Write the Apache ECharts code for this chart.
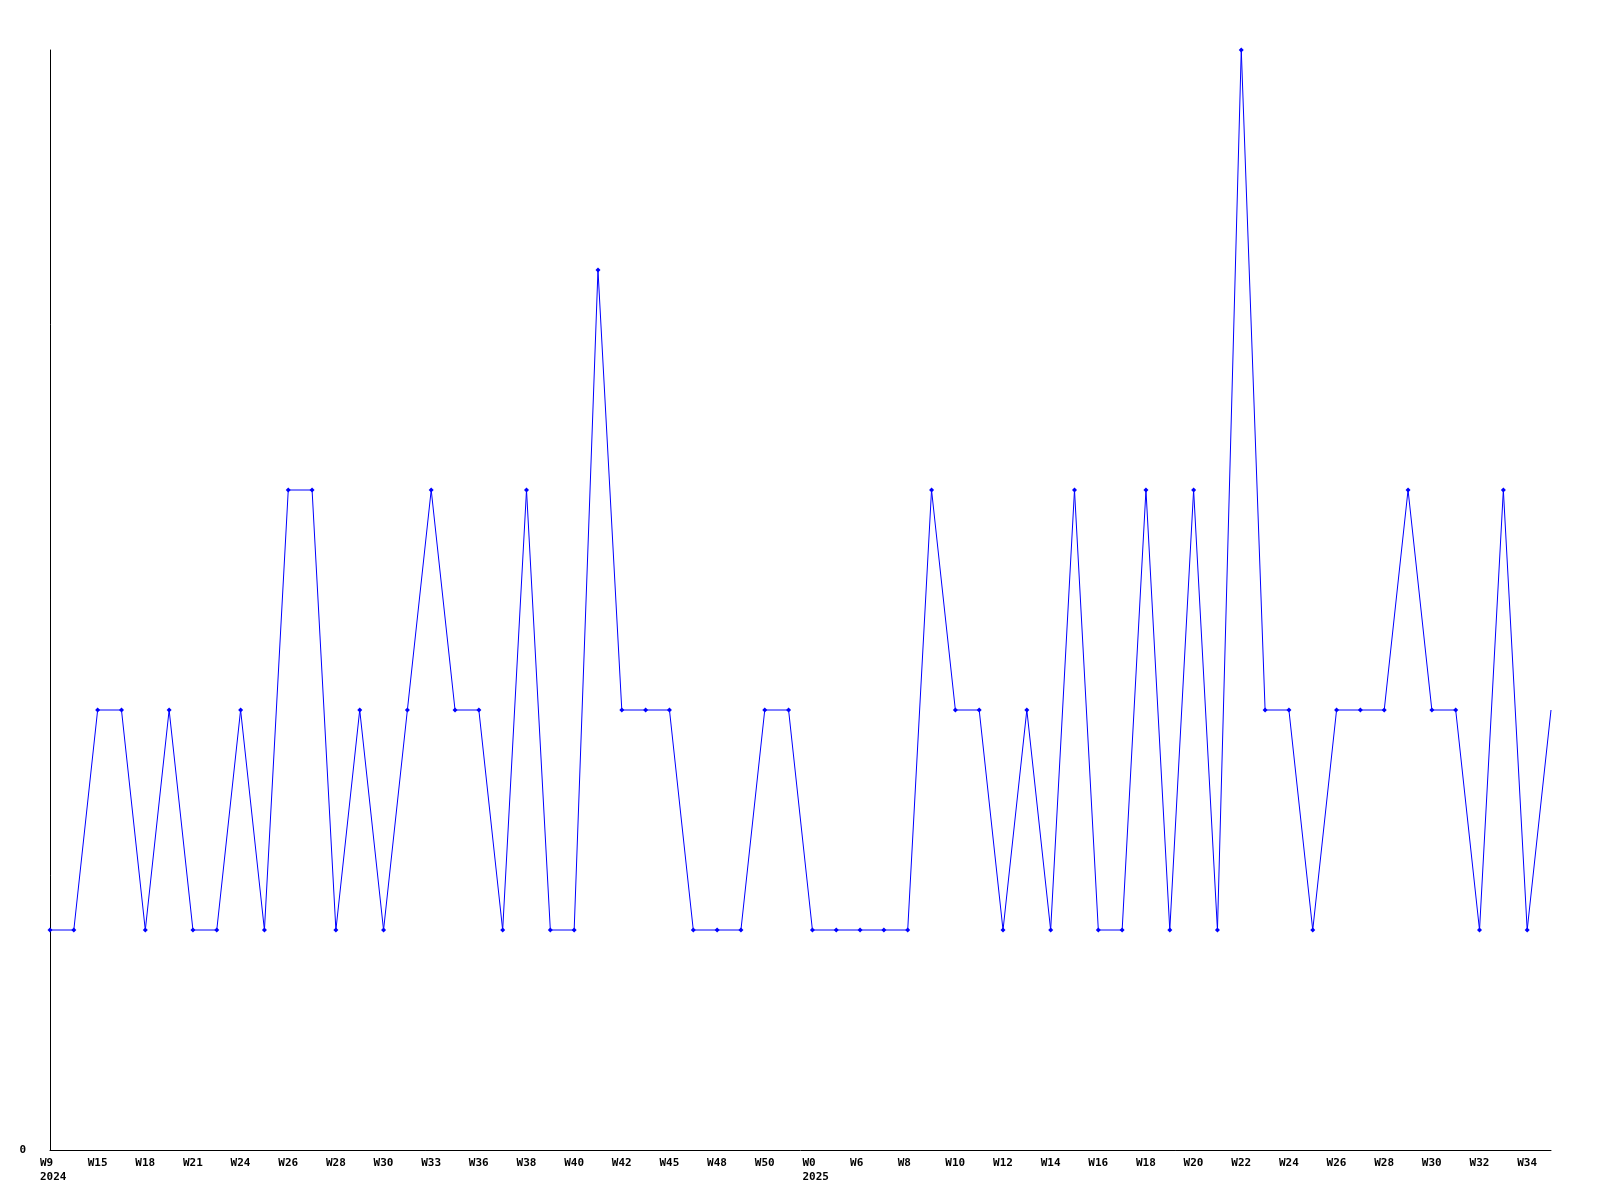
<!DOCTYPE html>
<html>
<head>
<meta charset="utf-8">
<script src="https://cdn.jsdelivr.net/npm/echarts@6/dist/echarts.min.js"></script>
<style>html,body{margin:0;padding:0;background:#fff}#c{width:1600px;height:1200px}</style>
</head>
<body>
<div id="c"></div>
<script>
// Category (week) labels, one per point; only every other one is shown on the axis
const weeks = [
  'W9\n2024','W12','W15','W16','W18','W19','W21','W22','W24','W25',
  'W26','W27','W28','W29','W30','W31','W33','W34','W36','W37',
  'W38','W39','W40','W41','W42','W43','W45','W46','W48','W49',
  'W50','W51','W0\n2025','W3','W6','W7','W8','W9','W10','W11',
  'W12','W13','W14','W15','W16','W17','W18','W19','W20','W21',
  'W22','W23','W24','W25','W26','W27','W28','W29','W30','W31',
  'W32','W33','W34','W35'
];
const values = [
  1,1,2,2,1,2,1,1,2,1,
  3,3,1,2,1,2,3,2,2,1,
  3,1,1,4,2,2,2,1,1,1,
  2,2,1,1,1,1,1,3,2,2,
  1,2,1,3,1,1,3,1,3,1,
  5,2,2,1,2,2,2,3,2,2,
  1,3,1,2
];
const yMin = 0, yMax = 5, yStep = 1;

const chart = echarts.init(document.getElementById('c'), null, {renderer: 'canvas'});
const font = '"DejaVu Sans Mono", "Liberation Mono", monospace';
const data = values.map((v, i) => i === values.length - 1 ? {value: v, symbol: 'none'} : v);
chart.setOption({
  animation: false,
  backgroundColor: '#ffffff',
  grid: {left: 50, right: 49, top: 50, bottom: 50, containLabel: false},
  xAxis: {
    type: 'category',
    data: weeks,
    boundaryGap: false,
    axisLine: {show: true, lineStyle: {color: '#000', width: 1}},
    axisTick: {show: false},
    splitLine: {show: false},
    axisLabel: {
      interval: 1,
      margin: 6,
      color: '#000',
      fontFamily: font,
      fontWeight: 'bold',
      fontSize: 11,
      lineHeight: 14,
      align: 'left',
      padding: [0, 0, 0, -10]
    }
  },
  yAxis: {
    type: 'value',
    min: yMin, max: yMax, interval: yStep,
    axisLine: {show: true, lineStyle: {color: '#000', width: 1}},
    axisTick: {show: false},
    splitLine: {show: false},
    axisLabel: {
      margin: 24,
      color: '#000',
      fontFamily: font,
      fontWeight: 'bold',
      fontSize: 11,
      formatter: v => v === 0 ? '0' : ''
    }
  },
  series: [{
    type: 'line',
    data: data,
    symbol: 'diamond',
    symbolSize: 5,
    showAllSymbol: true,
    lineStyle: {color: '#0000ff', width: 1},
    itemStyle: {color: '#0000ff'},
    clip: false
  }]
});
</script>
</body>
</html>
